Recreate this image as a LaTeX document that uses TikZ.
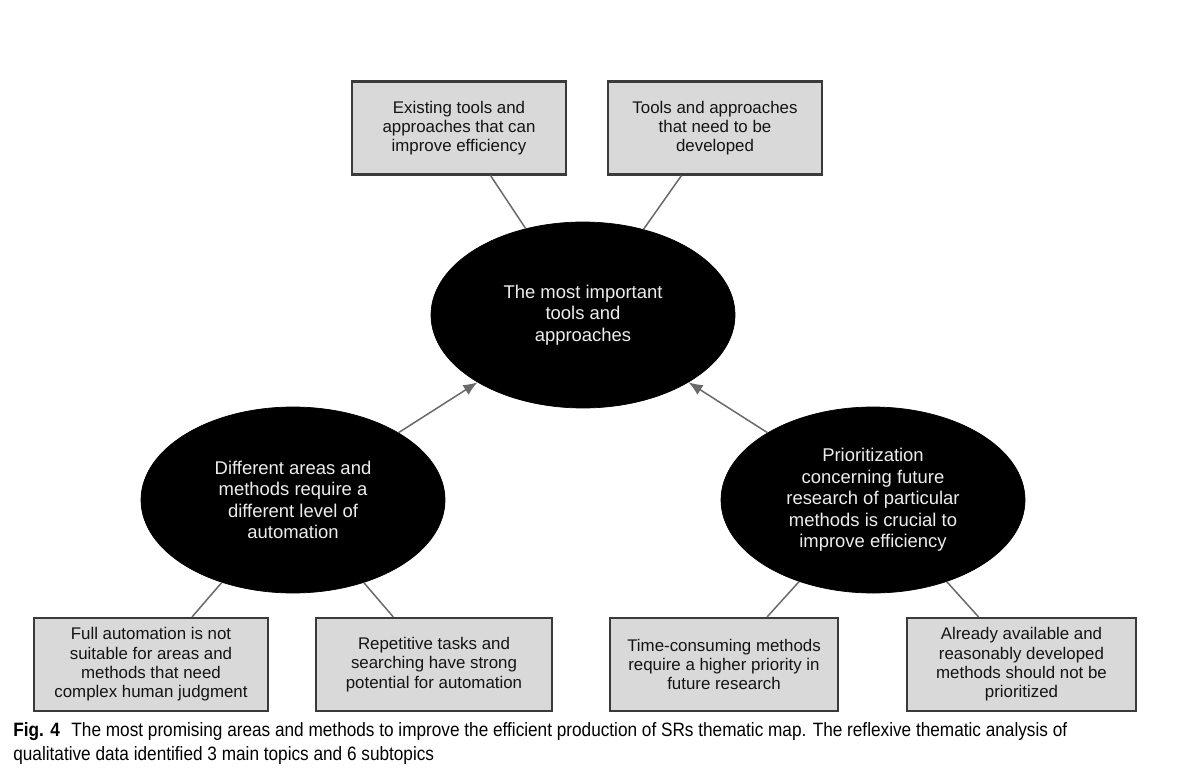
\documentclass[tikz,border=0pt]{standalone}
\usepackage{fontspec}
\setmainfont{Liberation Sans}
\newfontfamily\captionFont[FakeStretch=0.89]{Liberation Sans}
\usetikzlibrary{shapes.geometric,arrows.meta}

\newcommand{\boxFont}{\fontsize{9.6}{11}\selectfont}
\newcommand{\topicFont}{\fontsize{10.5}{12.2}\selectfont}

\tikzset{
	mainTopic/.style={ellipse, fill=black, draw=black, text=white!93!black, minimum width=6.08cm, minimum height=3.72cm, inner sep=0pt, align=center, font=\topicFont},
	subTopic/.style={rectangle, draw=boxBorder, line width=1.2pt, fill=boxFill, minimum height=1.86cm, inner sep=0pt, align=center, font=\boxFont, text=black!92},
	link/.style={draw=linkGray, line width=0.85pt},
	arrowLink/.style={link, -{Latex[length=8pt,width=6.5pt]}, fill=linkGray}
}

\begin{document}
\begin{tikzpicture}

		\definecolor{boxFill}{RGB}{217,217,217}
		\definecolor{boxBorder}{RGB}{58,58,58}
		\definecolor{linkGray}{RGB}{105,105,105}

		\useasboundingbox (0,0) rectangle (24,15.58);

		% main topics
		\node[mainTopic] (central) at (11.66,9.28) {The most important\\tools and\\approaches};
		\node[mainTopic] (automation) at (5.86,5.58) {Different areas and\\methods require a\\different level of\\automation};
		\node[mainTopic] (priority) at (17.46,5.58) {Prioritization\\concerning future\\research of particular\\methods is crucial to\\improve efficiency};

		% subtopics
		\node[subTopic, minimum width=4.28cm] (existing) at (9.18,13.02) {Existing tools and\\approaches that can\\improve efficiency};
		\node[subTopic, minimum width=4.28cm] (needed) at (14.30,13.02) {Tools and approaches\\that need to be\\developed};
		\node[subTopic, minimum width=4.68cm] (fullAuto) at (3.02,2.29) {Full automation is not\\suitable for areas and\\methods that need\\complex human judgment};
		\node[subTopic, minimum width=4.72cm] (repetitive) at (8.68,2.29) {Repetitive tasks and\\searching have strong\\potential for automation};
		\node[subTopic, minimum width=4.56cm] (timeCons) at (14.48,2.29) {Time-consuming methods\\require a higher priority in\\future research};
		\node[subTopic, minimum width=4.58cm] (available) at (20.43,2.29) {Already available and\\reasonably developed\\methods should not be\\prioritized};

		% connectors
		\draw[link] (existing) -- (central);
		\draw[link] (needed) -- (central);
		\draw[arrowLink] (automation) -- (central);
		\draw[arrowLink] (priority) -- (central);
		\draw[link] (automation) -- (fullAuto);
		\draw[link] (automation) -- (repetitive);
		\draw[link] (priority) -- (timeCons);
		\draw[link] (priority) -- (available);

		% caption
		\node[anchor=base west, inner sep=0pt, font=\captionFont\fontsize{11}{13}\selectfont] (capOne) at (0.26,0.86) {\textbf{Fig. 4}\hspace{0.6em}The most promising areas and methods to improve the efficient production of SRs thematic map. The reflexive thematic analysis of};
		\node[anchor=base west, inner sep=0pt, font=\captionFont\fontsize{11}{13}\selectfont] (capTwo) at (0.26,0.38) {qualitative data identified 3 main topics and 6 subtopics};

	\end{tikzpicture}
\end{document}
